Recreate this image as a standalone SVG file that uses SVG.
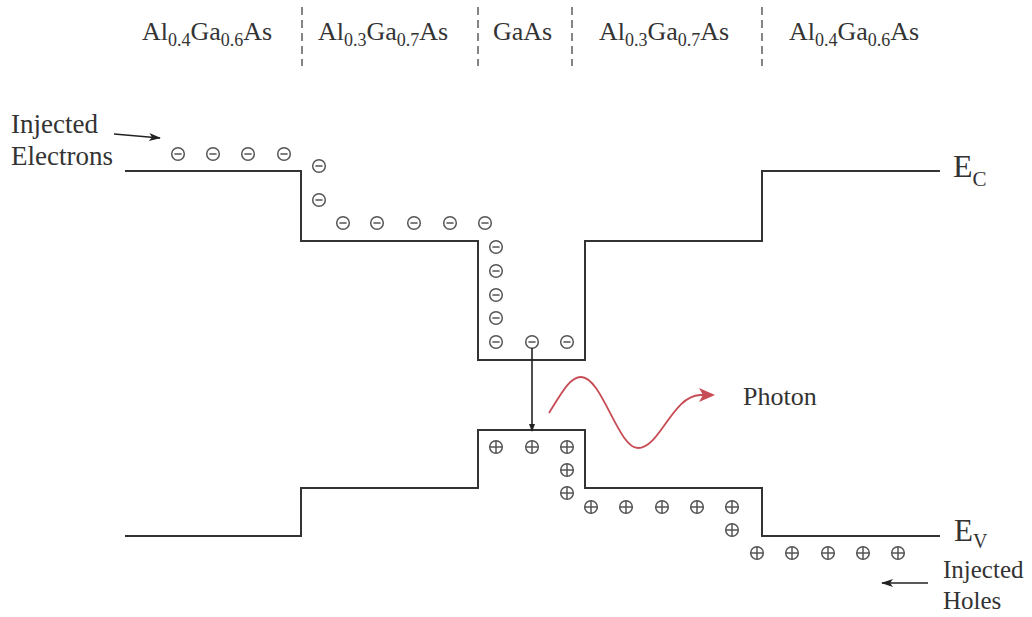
<svg xmlns="http://www.w3.org/2000/svg" width="1032" height="617" viewBox="0 0 1032 617">
<style>
  text { font-family: 'Liberation Serif', 'DejaVu Serif', serif; fill: #333; }
  .band { fill: none; stroke: #333; stroke-width: 2; }
  .sep { stroke: #444; stroke-width: 1.3; stroke-dasharray: 8 5; }
  .sym { fill: none; stroke: #555; stroke-width: 1.5; }
  .arr { fill: none; stroke: #222; stroke-width: 1.6; }
</style>
<defs>
  <g id="el"><circle class="sym" cx="0" cy="0" r="6.3"/><line class="sym" x1="-3.6" y1="0" x2="3.6" y2="0"/></g>
  <g id="ho"><circle class="sym" cx="0" cy="0" r="6.3"/><line class="sym" x1="-6.3" y1="0" x2="6.3" y2="0"/><line class="sym" x1="0" y1="-6.3" x2="0" y2="6.3"/></g>
  <marker id="ah" markerWidth="12" markerHeight="8" refX="11" refY="4" orient="auto" markerUnits="userSpaceOnUse">
    <path d="M0,0 L12,4 L0,8 L3,4 Z" fill="#222"/>
  </marker>
  <marker id="ahs" markerWidth="8" markerHeight="6" refX="7" refY="3" orient="auto" markerUnits="userSpaceOnUse">
    <path d="M0,0 L8,3 L0,6 Z" fill="#222"/>
  </marker>
  <marker id="ahr" markerWidth="16" markerHeight="14" refX="14" refY="7" orient="auto" markerUnits="userSpaceOnUse">
    <path d="M0,0 L16,7 L0,14 L4,7 Z" fill="#c84c55"/>
  </marker>
</defs>
<rect width="1032" height="617" fill="#fff"/>

<g id="layer-labels" font-size="26">
  <text x="142" y="40">Al<tspan font-size="18" dy="6">0.4</tspan><tspan dy="-6">Ga</tspan><tspan font-size="18" dy="6">0.6</tspan><tspan dy="-6">As</tspan></text>
  <text x="318" y="40">Al<tspan font-size="18" dy="6">0.3</tspan><tspan dy="-6">Ga</tspan><tspan font-size="18" dy="6">0.7</tspan><tspan dy="-6">As</tspan></text>
  <text x="493" y="40">GaAs</text>
  <text x="599" y="40">Al<tspan font-size="18" dy="6">0.3</tspan><tspan dy="-6">Ga</tspan><tspan font-size="18" dy="6">0.7</tspan><tspan dy="-6">As</tspan></text>
  <text x="789" y="40">Al<tspan font-size="18" dy="6">0.4</tspan><tspan dy="-6">Ga</tspan><tspan font-size="18" dy="6">0.6</tspan><tspan dy="-6">As</tspan></text>
</g>

<g id="separators">
  <line class="sep" x1="302" y1="7" x2="302" y2="66"/>
  <line class="sep" x1="478" y1="7" x2="478" y2="66"/>
  <line class="sep" x1="572" y1="7" x2="572" y2="66"/>
  <line class="sep" x1="762" y1="7" x2="762" y2="66"/>
</g>

<g id="conduction-band">
  <polyline class="band" points="125,171 301,171 301,241 478,241 478,360 585,360 585,241 762,241 762,171 940,171"/>
  <text x="953" y="177" font-size="32">E<tspan font-size="21" dy="9">C</tspan></text>
</g>

<g id="valence-band">
  <polyline class="band" points="125,536 301,536 301,488 478,488 478,430 585,430 585,488 762,488 762,536 940,536"/>
  <text x="954" y="541" font-size="31">E<tspan font-size="20" dy="7">V</tspan></text>
</g>

<g id="electrons">
  <use href="#el" x="178" y="154"/>
  <use href="#el" x="213" y="154"/>
  <use href="#el" x="248" y="154"/>
  <use href="#el" x="284" y="154"/>
  <use href="#el" x="319" y="166"/>
  <use href="#el" x="319" y="200"/>
  <use href="#el" x="343" y="223"/>
  <use href="#el" x="377" y="223"/>
  <use href="#el" x="414" y="223"/>
  <use href="#el" x="450" y="223"/>
  <use href="#el" x="485" y="223"/>
  <use href="#el" x="496" y="247"/>
  <use href="#el" x="496" y="271"/>
  <use href="#el" x="496" y="295"/>
  <use href="#el" x="496" y="318"/>
  <use href="#el" x="496" y="342"/>
  <use href="#el" x="532" y="342"/>
  <use href="#el" x="567" y="342"/>
</g>

<g id="holes">
  <use href="#ho" x="496" y="447"/>
  <use href="#ho" x="532" y="447"/>
  <use href="#ho" x="567" y="447"/>
  <use href="#ho" x="567" y="470"/>
  <use href="#ho" x="567" y="493"/>
  <use href="#ho" x="591" y="507"/>
  <use href="#ho" x="626" y="507"/>
  <use href="#ho" x="662" y="507"/>
  <use href="#ho" x="697" y="507"/>
  <use href="#ho" x="732" y="507"/>
  <use href="#ho" x="732" y="530"/>
  <use href="#ho" x="757" y="553"/>
  <use href="#ho" x="792" y="553"/>
  <use href="#ho" x="828" y="553"/>
  <use href="#ho" x="863" y="553"/>
  <use href="#ho" x="898" y="553"/>
</g>

<g id="injected-electrons" font-size="27">
  <text x="11" y="133">Injected</text>
  <text x="11" y="165">Electrons</text>
</g>

<g id="injected-holes" font-size="25">
  <text x="943" y="578">Injected</text>
  <text x="943" y="609">Holes</text>
</g>

<g id="photon">
  <path d="M549,413 C562,392 570,377 581,377 C602,377 618,448 638,448 C660,448 672,396 700,395 L713,395" fill="none" stroke="#c84c55" stroke-width="1.8" marker-end="url(#ahr)"/>
  <text x="743" y="405" font-size="26">Photon</text>
</g>

<g id="connectors">
  <line class="arr" x1="114" y1="134" x2="160" y2="138" marker-end="url(#ah)"/>
  <line class="arr" x1="928" y1="583" x2="882" y2="583" marker-end="url(#ah)"/>
  <line class="arr" x1="532" y1="348" x2="532" y2="431" marker-end="url(#ahs)"/>
</g>
</svg>
